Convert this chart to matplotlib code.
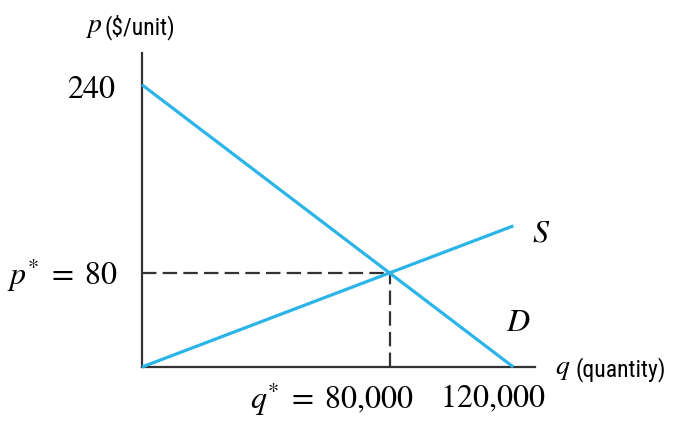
import matplotlib
matplotlib.use("Agg")
import matplotlib.pyplot as plt
import numpy as np

# supply / demand lines (q in units, p in $/unit)
q_supply = [0, 120000]
p_supply = [0, 120]
q_demand = [0, 120000]
p_demand = [240, 0]

q_star = 80000
p_star = 80

blue = "#2ab4e8"

plt.rcParams["mathtext.fontset"] = "stix"
plt.rcParams["font.family"] = ["STIXGeneral", "DejaVu Serif"]

fig = plt.figure(figsize=(6.76, 4.24), dpi=100)
ax = fig.add_axes([0.210, 0.1344, 0.5814, 0.7406])

ax.plot(q_supply, p_supply, color=blue, lw=2.3, solid_capstyle="butt", clip_on=False, zorder=3)
ax.plot(q_demand, p_demand, color=blue, lw=2.3, solid_capstyle="butt", clip_on=False, zorder=3)

# dashed guides to the equilibrium
ax.plot([0, q_star], [p_star, p_star], color="#333333", lw=1.6, dashes=(6.5, 2.8), zorder=2)
ax.plot([q_star, q_star], [0, p_star], color="#333333", lw=1.6, dashes=(6.5, 2.8), zorder=2)

ax.set_xlim(0, 127000)
ax.set_ylim(0, 267)
for s in ["top", "right"]:
    ax.spines[s].set_visible(False)
for s in ["left", "bottom"]:
    ax.spines[s].set_linewidth(1.6)
    ax.spines[s].set_color("#333333")
ax.set_xticks([])
ax.set_yticks([])

fs = 23
ax.text(-8700, 235, "240", fontsize=fs, ha="right", va="center", clip_on=False)
ax.text(-7800, 78, r"$p^{*}\;=\;80$", fontsize=fs, ha="right", va="center", clip_on=False)
ax.text(87700, -27, r"$q^{*}\;=\;80{,}000$", fontsize=fs, ha="right", va="center", clip_on=False)
ax.text(113200, -27, r"$120{,}000$", fontsize=fs, ha="center", va="center", clip_on=False)
ax.text(129100, 113, r"$S$", fontsize=fs, ha="center", va="center", clip_on=False)
ax.text(121600, 37, r"$D$", fontsize=fs, ha="center", va="center", clip_on=False)

sans = ["Roboto Condensed", "Liberation Sans Narrow", "Roboto", "DejaVu Sans"]
ax.text(-18400, 289, r"$p$", fontsize=20, ha="left", va="center", clip_on=False)
ax.text(-12200, 289, "($/unit)", fontsize=17, family=sans, stretch="condensed",
        ha="left", va="center", clip_on=False)
ax.text(133600, -2, r"$q$", fontsize=20, ha="left", va="center", clip_on=False)
ax.text(140000, -2, "(quantity)", fontsize=17, family=sans, stretch="condensed",
        ha="left", va="center", clip_on=False)

fig.savefig("out.png", dpi=100, facecolor="white")
